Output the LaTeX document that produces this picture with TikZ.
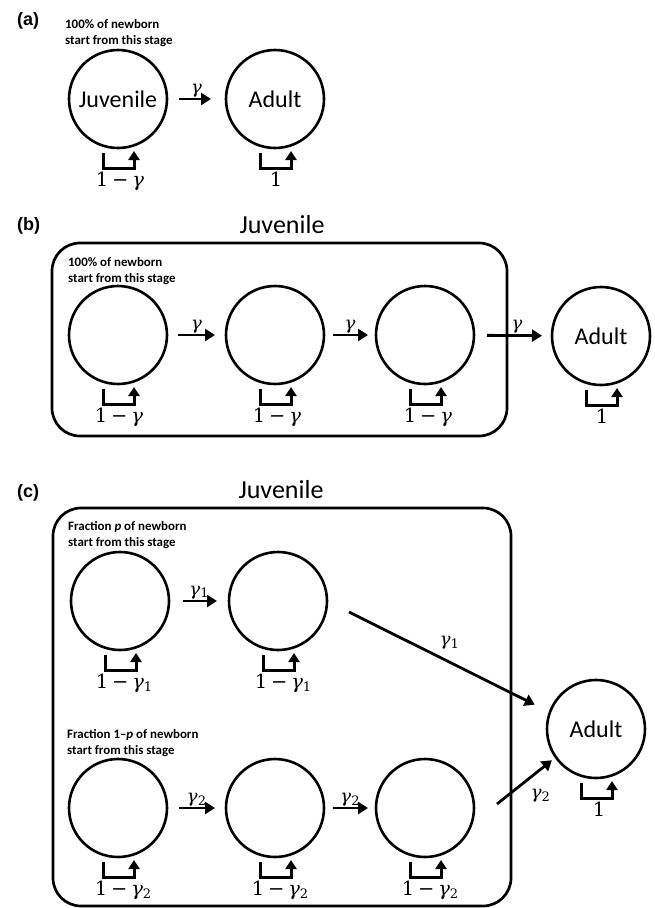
\documentclass[tikz,border=0pt]{standalone}
\usepackage{fontspec}
\setmainfont{Carlito}
\newfontfamily\labfont{Liberation Sans}
\newfontfamily\mfont{DejaVu Serif}
\newcommand\gsub[1]{\raisebox{-0.32ex}{\fontsize{13}{13}\selectfont #1}}
\newcommand\gm{\textit{γ}}
\newcommand\omg{1\hspace{0.2em}−\hspace{0.2em}\gm}
\usetikzlibrary{arrows.meta,calc}
\tikzset{
  stage/.style={circle, draw, line width=2.6pt, minimum size=98pt, inner sep=0pt, outer sep=0pt,
    font=\fontsize{24}{28}\selectfont},
  arr/.style={line width=2.8pt, -{Triangle[length=10pt,width=12pt]}},
  loopl/.style={line width=3pt, -{Triangle[length=9pt,width=11pt]}},
  bigbox/.style={draw, line width=2.7pt, rounded corners=28pt, inner sep=0pt, outer sep=0pt, anchor=north west},
  note/.style={font=\bfseries\fontsize{12.9}{16}\selectfont, align=left, anchor=base west, inner sep=0pt},
  lab/.style={font=\labfont\bfseries\fontsize{18}{20}\selectfont, anchor=base west, inner sep=0pt},
  ttl/.style={font=\fontsize{26}{30}\selectfont, anchor=base, inner sep=0pt},
  glab/.style={font=\mfont\fontsize{18}{22}\selectfont, inner sep=0pt, anchor=base},
  llab/.style={font=\mfont\fontsize{19.5}{23}\selectfont, inner sep=0pt, anchor=base}
}
% #1 node, #2 label, #3 x offset of label
\newcommand\stageloop[3]{%
  \draw[loopl] ($(#1.south)+(-15,5)$) -- ($(#1.south)+(-15,20)$) -- ($(#1.south)+(16,20)$) -- ($(#1.south)+(16,3)$);
  \node[llab] (#1l) at ($(#1.south)+(#3,38)$) {#2};
}
\begin{document}
\begin{tikzpicture}[x=1pt,y=-1pt]
\useasboundingbox (0,0) rectangle (654,908);

% ---------- (a)
\node[lab] (la) at (17,25) {(a)};
\node[note] (na) at (65,44) {100\% of newborn\\start from this stage};
\node[stage] (a1) at (118,99) {Juvenile};
\node[stage] (a2) at (275,99) {Adult};
\draw[arr, shorten <=12pt, shorten >=15pt] (a1) -- (a2) node[glab, midway, yshift=6pt] (ga) {\gm};
\stageloop{a1}{\omg}{2}
\stageloop{a2}{1}{1}

% ---------- (b)
\node[lab] (lb) at (17,230) {(b)};
\node[ttl] (tb) at (282,233) {Juvenile};
\node[bigbox, minimum width=455pt, minimum height=193pt] (boxb) at (52,243) {};
\node[note] (nb) at (68,282) {100\% of newborn\\start from this stage};
\node[stage] (b1) at (118,335) {};
\node[stage] (b2) at (275,335) {};
\node[stage] (b3) at (425,335) {};
\node[stage] (b4) at (601,336) {Adult};
\draw[arr, shorten <=11pt, shorten >=11pt] (b1) -- (b2) node[glab, midway, yshift=6pt] (gb1) {\gm};
\draw[arr, shorten <=9pt, shorten >=8pt] (b2) -- (b3) node[glab, midway, yshift=6pt] (gb2) {\gm};
\draw[arr, shorten <=13pt, shorten >=10pt] (b3) -- (b4) node[glab, pos=0.55, yshift=6pt] (gb3) {\gm};
\stageloop{b1}{\omg}{1}
\stageloop{b2}{\omg}{2}
\stageloop{b3}{\omg}{3}
\stageloop{b4}{1}{1}

% ---------- (c)
\node[lab] (lc) at (17,497) {(c)};
\node[ttl] (tc) at (281,498) {Juvenile};
\node[bigbox, minimum width=458pt, minimum height=398pt] (boxc) at (53,508) {};
\node[note] (nc1) at (68,546) {Fraction \textit{p} of newborn\\start from this stage};
\node[stage] (c11) at (120,601) {};
\node[stage] (c12) at (278,601) {};
\node[stage] (cA) at (596,729) {Adult};
\draw[arr, shorten <=14pt, shorten >=12pt] (c11) -- (c12) node[glab, midway, yshift=6pt] (gc1) {\gm\gsub{1}};
\coordinate (d1s) at (349,612);
\draw[arr, shorten >=17pt] (d1s) -- (cA.160) node[glab, midway, anchor=center, yshift=19pt] (gd1) {\gm\gsub{1}};
\stageloop{c11}{\omg\gsub{1}}{4}
\stageloop{c12}{\omg\gsub{1}}{5}

\node[note] (nc2) at (67,754) {Fraction 1–\textit{p} of newborn\\start from this stage};
\node[stage] (c21) at (118,808) {};
\node[stage] (c22) at (275,808) {};
\node[stage] (c23) at (425,808) {};
\draw[arr, shorten <=12pt, shorten >=11pt] (c21) -- (c22) node[glab, midway, yshift=6pt] (gc2) {\gm\gsub{2}};
\draw[arr, shorten <=9pt, shorten >=8pt] (c22) -- (c23) node[glab, midway, yshift=6pt] (gc3) {\gm\gsub{2}};
\coordinate (d2s) at (497,804);
\draw[arr, shorten >=5pt] (d2s) -- (cA.215) node[glab, midway, anchor=center, xshift=14pt, yshift=-15pt] (gd2) {\gm\gsub{2}};
\stageloop{c21}{\omg\gsub{2}}{5}
\stageloop{c22}{\omg\gsub{2}}{5}
\stageloop{c23}{\omg\gsub{2}}{5}
\stageloop{cA}{1}{3}
\end{tikzpicture}
\end{document}
